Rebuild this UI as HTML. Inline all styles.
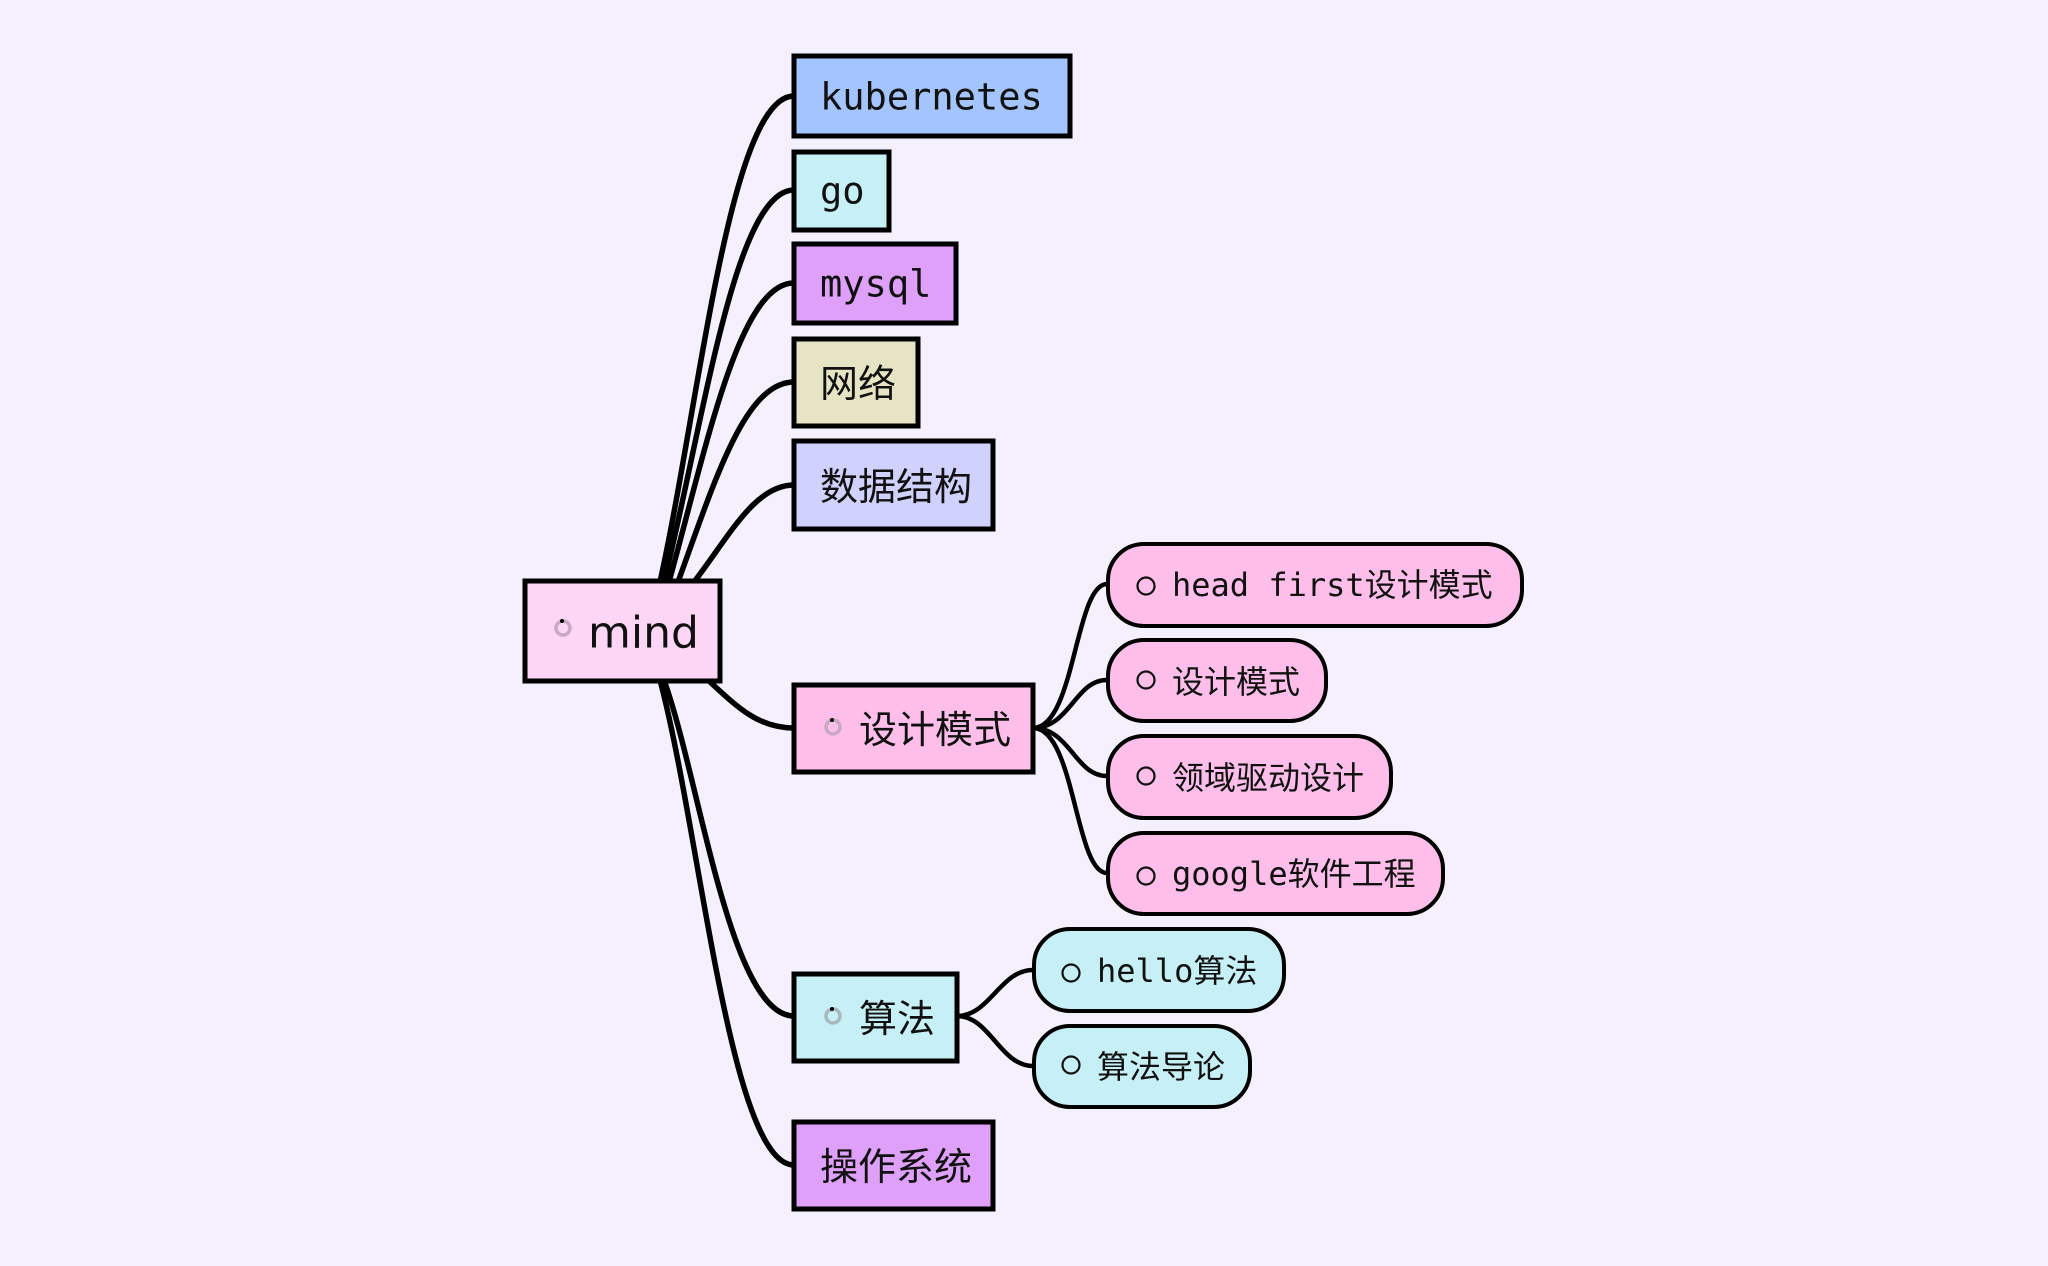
<!DOCTYPE html>
<html><head><meta charset="utf-8"><style>
html,body{margin:0;padding:0;background:#f4f0fe;}
svg{display:block}
.m{font-family:"DejaVu Sans Mono","Liberation Mono","Noto Sans CJK SC",monospace;fill:#111}
.s{font-family:"DejaVu Sans","Liberation Sans","Noto Sans CJK SC",sans-serif;fill:#111}
</style></head><body>
<svg width="2048" height="1266" viewBox="0 0 2048 1266" xmlns="http://www.w3.org/2000/svg">
<rect width="2048" height="1266" fill="#f4f0fe"/>
<g fill="none" stroke="#000" stroke-width="5.5" stroke-linecap="round">
<path d="M660 582 C700 400,730 96,794 96"/>
<path d="M664 582 C704 420,735 190,794 190"/>
<path d="M669 582 C708 440,740 283,794 283"/>
<path d="M678 582 C715 480,745 382,794 382"/>
<path d="M694 582 C730 535,755 485,794 485"/>
<path d="M708 680 C740 710,760 728,794 728"/>
<path d="M664 680 C700 780,730 1016,794 1016"/>
<path d="M660 680 C700 830,730 1165,794 1165"/>
</g>
<g fill="none" stroke="#000" stroke-width="4.5">
<path d="M1033 728 C1075 728,1075 584,1107 584"/>
<path d="M1033 728 C1070 728,1075 680,1107 680"/>
<path d="M1033 728 C1070 728,1075 776,1107 776"/>
<path d="M1033 728 C1075 728,1075 873,1107 873"/>
<path d="M957 1016 C990 1016,1000 970,1033 970"/>
<path d="M957 1016 C990 1016,1000 1066,1033 1066"/>
</g>
<g stroke="#000" stroke-width="5">
<rect x="794" y="56" width="276" height="80" fill="#a3c4fd"/>
<rect x="794" y="152" width="95" height="78" fill="#c6f0f5"/>
<rect x="794" y="244" width="162" height="79" fill="#dea0f8"/>
<rect x="794" y="339" width="124" height="87" fill="#e7e4c6"/>
<rect x="794" y="441" width="199" height="88" fill="#d0d1fd"/>
<rect x="525" y="581" width="195" height="100" fill="#fdd5f5"/>
<rect x="794" y="685" width="239" height="87" fill="#fdbfe9"/>
<rect x="794" y="974" width="163" height="87" fill="#c6f0f5"/>
<rect x="794" y="1122" width="199" height="87" fill="#dea0f8"/>
</g>
<g stroke="#000" stroke-width="4">
<rect x="1108" y="544" width="414" height="82" rx="36" fill="#fdbfe9"/>
<rect x="1108" y="640" width="218" height="81" rx="36" fill="#fdbfe9"/>
<rect x="1108" y="736" width="283" height="82" rx="36" fill="#fdbfe9"/>
<rect x="1108" y="833" width="335" height="81" rx="36" fill="#fdbfe9"/>
<rect x="1034" y="929" width="250" height="82" rx="36" fill="#c6f0f5"/>
<rect x="1034" y="1026" width="216" height="81" rx="36" fill="#c6f0f5"/>
</g>
<g class="m" font-size="37" dominant-baseline="central">
<text x="820" y="97">kubernetes</text>
<text x="820" y="191">go</text>
<text x="820" y="284">mysql</text>
</g>
<g class="m" font-size="38" dominant-baseline="central">
<text x="820" y="384">网络</text>
<text x="820" y="487">数据结构</text>
<text x="859" y="730">设计模式</text>
<text x="859" y="1019">算法</text>
<text x="820" y="1167">操作系统</text>
</g>
<text class="s" x="588" y="633" font-size="44" dominant-baseline="central">mind</text>
<g fill="none" stroke="#c8a8c4" stroke-width="3.5">
<circle cx="563" cy="628" r="7"/>
<circle cx="833" cy="727" r="7"/>
<circle cx="833" cy="1016" r="7" stroke="#a8b8bc"/>
</g>
<g fill="#000"><circle cx="562" cy="621" r="2"/><circle cx="832" cy="720" r="2"/><circle cx="832" cy="1009" r="2"/></g>
<g fill="none" stroke="#111" stroke-width="2.2">
<circle cx="1146" cy="586" r="8.5"/>
<circle cx="1146" cy="680" r="8.5"/>
<circle cx="1146" cy="776" r="8.5"/>
<circle cx="1146" cy="876" r="8.5"/>
<circle cx="1071" cy="973" r="8.5"/>
<circle cx="1071" cy="1065" r="8.5"/>
</g>
<g class="m" font-size="32" dominant-baseline="central">
<text x="1172" y="585">head first设计模式</text>
<text x="1172" y="682">设计模式</text>
<text x="1172" y="778">领域驱动设计</text>
<text x="1172" y="874">google软件工程</text>
<text x="1097" y="971">hello算法</text>
<text x="1097" y="1067">算法导论</text>
</g>
</svg>
</body></html>
